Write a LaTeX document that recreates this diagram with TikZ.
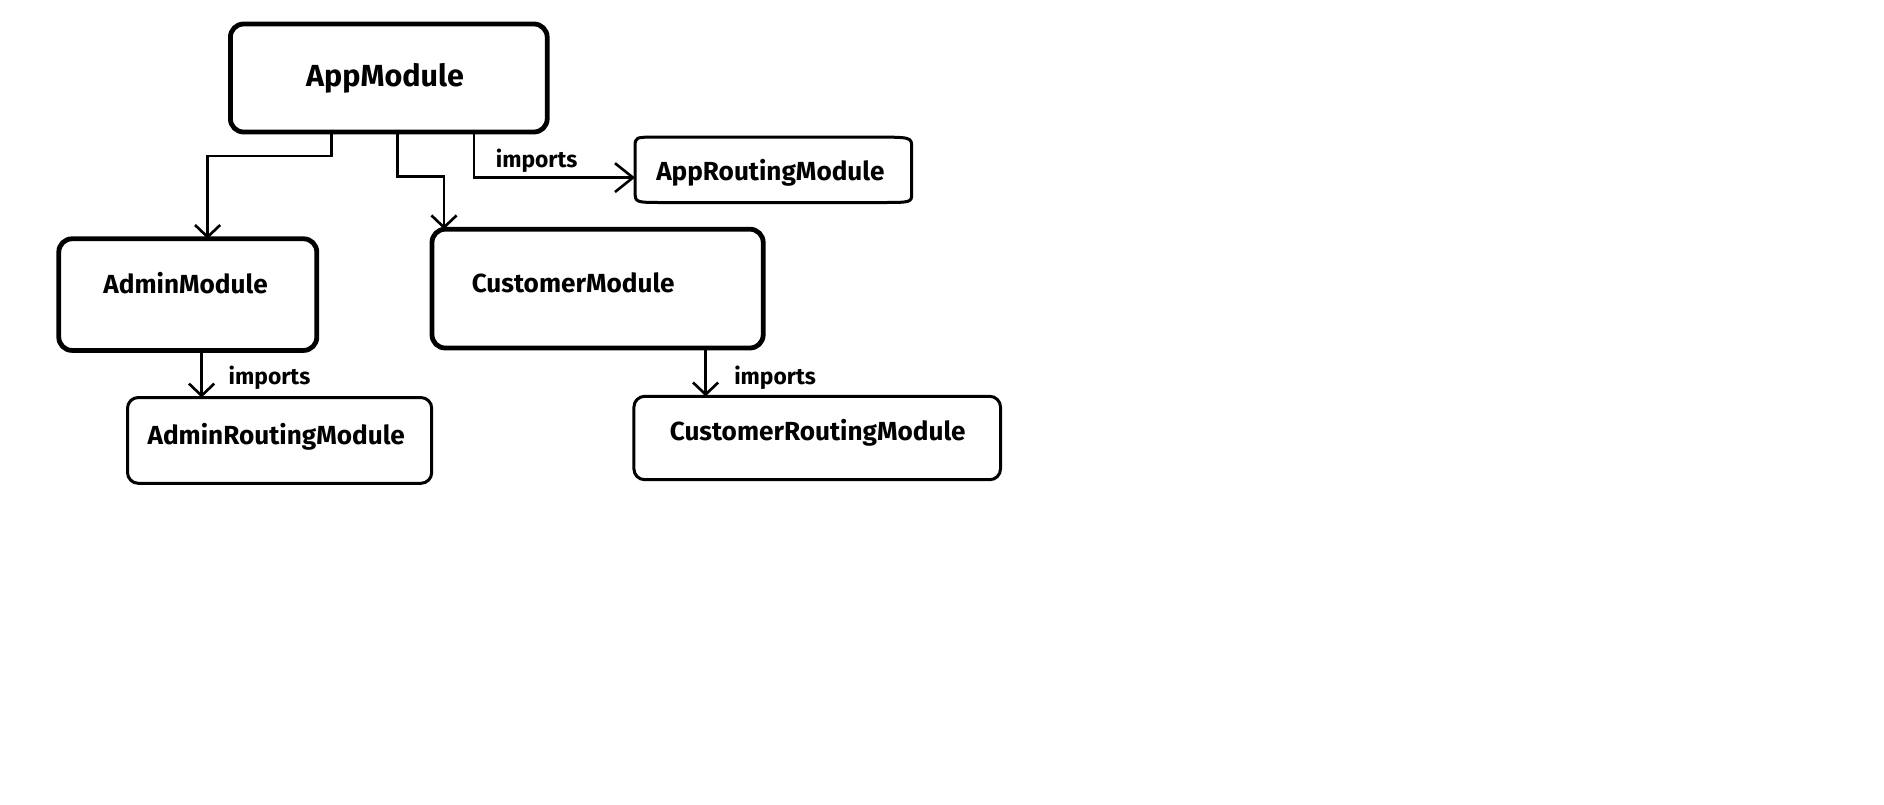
\documentclass[tikz,border=0pt]{standalone}
\usepackage{fontspec}
\setmainfont{Fira Sans}
\usetikzlibrary{arrows.meta}
\begin{document}
\begin{tikzpicture}[x=1pt,y=-1pt,
  thickbox/.style={draw, line width=4pt, rounded corners=11pt, inner sep=0pt, outer sep=0pt},
  thinbox/.style={draw, line width=2.5pt, rounded corners=9pt, inner sep=0pt, outer sep=0pt},
  conn/.style={line width=2.2pt, -{Straight Barb[length=10pt,width=21pt]}},
  lbl/.style={anchor=base west, inner sep=0pt, font=\bfseries\fontsize{21.8}{24}\selectfont},
  biglbl/.style={anchor=base west, inner sep=0pt, font=\bfseries\fontsize{25.4}{28}\selectfont},
  implbl/.style={anchor=base west, inner sep=0pt, font=\bfseries\fontsize{19}{22}\selectfont}]
\useasboundingbox[fill=white] (0,0) rectangle (1570,670);

% boxes
\node[thickbox, minimum width=264pt, minimum height=90pt] (app) at (324,65) {};
\node[thickbox, minimum width=215pt, minimum height=93pt] (admin) at (156.5,245.5) {};
\node[thickbox, minimum width=276pt, minimum height=99pt] (cust) at (498,240.5) {};
\node[thinbox, minimum width=253.5pt, minimum height=71.5pt] (adminR) at (233,367) {};
\node[thinbox, minimum width=305.5pt, minimum height=69.5pt] (custR) at (681,365) {};
\node[inner sep=0pt, outer sep=0pt, minimum width=230.5pt, minimum height=54.5pt] (appR) at (644.5,141.5) {};
\draw[line width=2.5pt]
  ([yshift=-8pt]appR.north west) -- ([yshift=9pt]appR.south west)
  .. controls (appR.south west) .. ([xshift=24pt]appR.south west)
  -- ([xshift=-26pt]appR.south east)
  .. controls (appR.south east) .. ([yshift=8pt]appR.south east)
  -- ([yshift=-9pt]appR.north east)
  .. controls (appR.north east) .. ([xshift=-32pt]appR.north east)
  -- ([xshift=18pt]appR.north west)
  .. controls (appR.north west) .. ([yshift=-8pt]appR.north west) -- cycle;

% connectors
\draw[conn] ([xshift=-48pt]app.south) -- ++(0,20) -| ([xshift=16.5pt]admin.north);
\draw[conn] ([xshift=7pt]app.south) -- ++(0,37) -| ([xshift=-128pt]cust.north);
\draw[conn, -{Straight Barb[length=15pt,width=24pt]}] ([xshift=71pt]app.south) |- ([yshift=-6.5pt]appR.west);
\draw[conn] ([xshift=11.5pt]admin.south) -- ([xshift=-65pt]adminR.north);
\draw[conn] ([xshift=90pt]cust.south) -- ([xshift=-93pt]custR.north);

% texts
\node[biglbl] (tApp) at (255,71.7) {AppModule};
\node[lbl] (tAppR) at (546.7,150) {AppRoutingModule};
\node[lbl] (tAdmin) at (86,244.4) {AdminModule};
\node[lbl] (tCust) at (393,243.9) {CustomerModule};
\node[lbl] (tAdminR) at (122.8,370.8) {AdminRoutingModule};
\node[lbl] (tCustR) at (558,367.2) {CustomerRoutingModule};
\node[implbl] (i1) at (413,139.4) {imports};
\node[implbl] (i2) at (190.4,320.8) {imports};
\node[implbl] (i3) at (611.7,320.8) {imports};
\end{tikzpicture}
\end{document}
